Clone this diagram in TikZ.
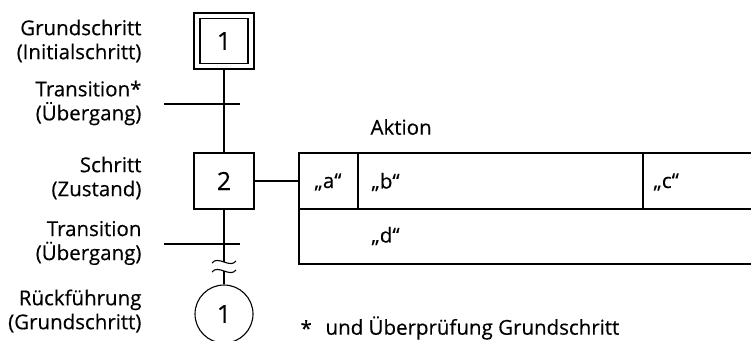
\documentclass[tikz,border=0pt]{standalone}
\usepackage{fontspec}
\setmainfont{Open Sans}[FakeBold=0.4]
\begin{document}
\begin{tikzpicture}[x=1pt,y=-1pt,line width=1.1pt,
  lbl/.style={anchor=east,align=right,font=\fontsize{20.5}{24}\selectfont,inner sep=0pt},
  stepbox/.style={draw,minimum width=60pt,minimum height=56pt,inner sep=0pt,font=\fontsize{25}{28}\selectfont},
  txt/.style={font=\fontsize{20.5}{22}\selectfont,inner sep=0pt}]
\useasboundingbox (0,0) rectangle (751,340);
% step 1 (initial)
\node[stepbox] (s1) at (224,41) {};
\node[draw,minimum width=48pt,minimum height=45pt,inner sep=0pt,font=\fontsize{25}{28}\selectfont] (s1i) at (224,41) {1};
% step 2
\node[stepbox] (s2) at (224,181) {2};
% return circle
\node[draw,circle,minimum size=58pt,inner sep=0pt,font=\fontsize{25}{28}\selectfont] (r1) at (224,314) {1};
% transitions
\coordinate (t1a) at (164,104); \coordinate (t1b) at (240,104);
\coordinate (t2a) at (164,244); \coordinate (t2b) at (240,244);
\draw (s1.south) -- (s2.north);
\draw (t1a) -- (t1b);
\draw (t2a) -- (t2b);
\coordinate (w1) at (224,262);
\coordinate (w2) at (224,271);
\draw (s2.south) -- (w1);
\draw (w2) -- (r1.north);
\draw (212,263) .. controls (218,255) and (230,269) .. (236,261);
\draw (212,272) .. controls (218,264) and (230,278) .. (236,270);
% action block
\coordinate (aNW) at (299,153);
\coordinate (aW) at (299,209);
\coordinate (aSW) at (299,264);
\draw (s2.east) -- (aNW |- s2.east);
\draw (751,153) -- (aNW) -- (aSW) -- (751,264);
\draw (aW) -- (751,209);
\draw (358,153) -- (358,209);
\draw (643,153) -- (643,209);
\node[txt,anchor=west] (akt) at (370,127) {Aktion};
\node[txt] (ca) at (328,182) {„a“};
\node[txt,anchor=west] (cb) at (371,182) {„b“};
\node[txt,anchor=west] (cc) at (653,182) {„c“};
\node[txt,anchor=west] (cd) at (371,236) {„d“};
% left labels
\node[lbl] (l1) at (142,41) {Grundschritt\\(Initialschritt)};
\node[lbl] (l2) at (142,103) {Transition*\\(Übergang)};
\node[lbl] (l3) at (142,178) {Schritt\\(Zustand)};
\node[lbl] (l4) at (142,243) {Transition\\(Übergang)};
\node[lbl] (l5) at (142,311) {Rückführung\\(Grundschritt)};
% footnote
\node[txt,anchor=west] (fs) at (300,328) {*};
\node[txt,anchor=west] (fn) at (325,328) {und Überprüfung Grundschritt};
\end{tikzpicture}
\end{document}
